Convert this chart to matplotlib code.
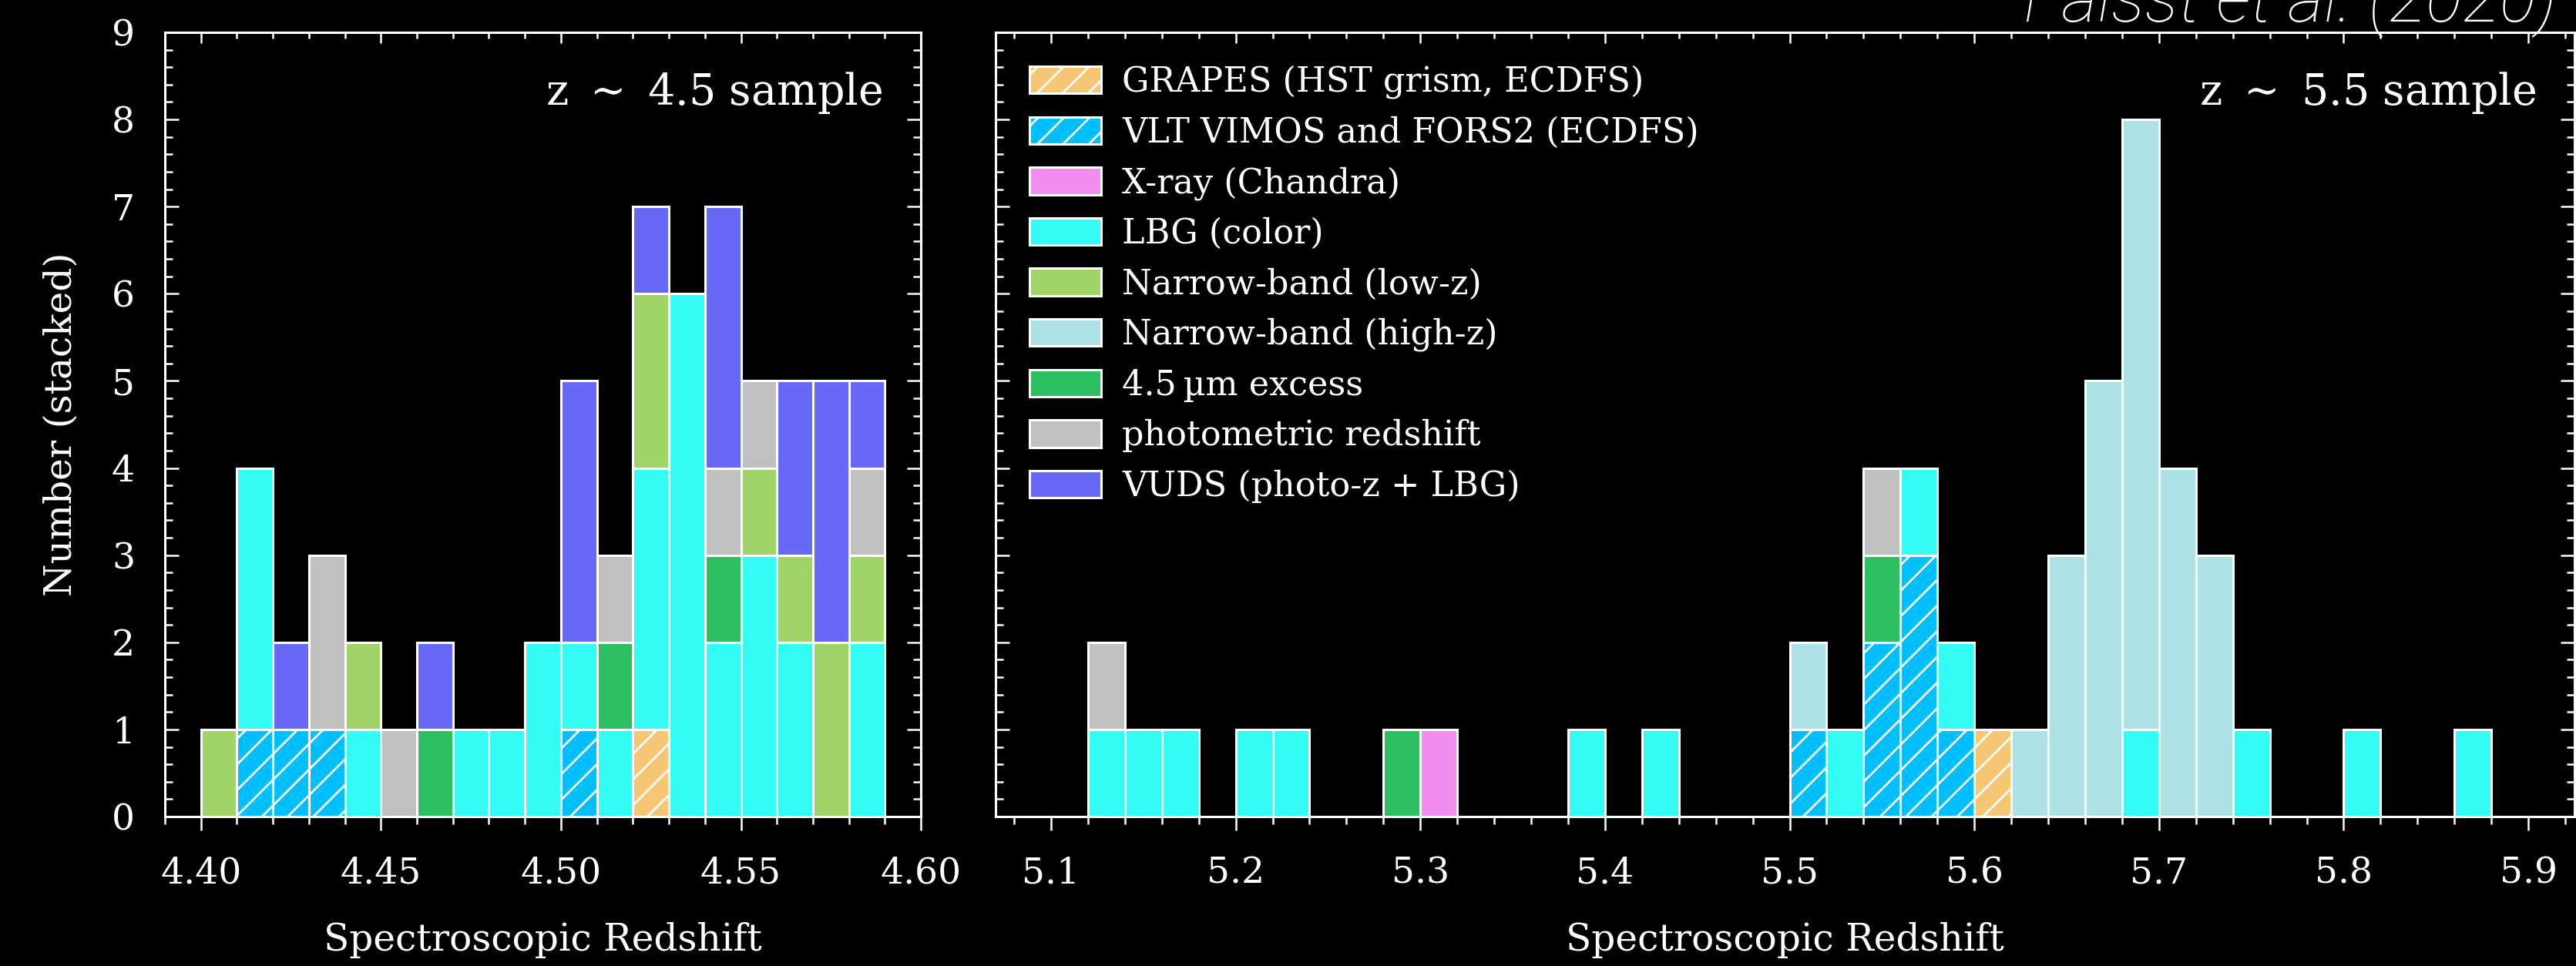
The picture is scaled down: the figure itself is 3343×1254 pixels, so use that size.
import numpy as np
import matplotlib
matplotlib.use("Agg")
import matplotlib.pyplot as plt
import matplotlib.patches as mpatches
from matplotlib.ticker import MultipleLocator

plt.rcParams["font.family"] = "DejaVu Serif"
plt.rcParams["mathtext.fontset"] = "dejavuserif"
plt.rcParams["hatch.linewidth"] = 2.0
plt.rcParams["hatch.color"] = "white"

# selection methods, stacked bottom to top
categories = ["GRAPES (HST grism, ECDFS)", "VLT VIMOS and FORS2 (ECDFS)", "X-ray (Chandra)", "LBG (color)",
              "Narrow-band (low-z)", "Narrow-band (high-z)", "4.5\u2009\u00b5m excess", "photometric redshift",
              "VUDS (photo-z + LBG)"]
colors = ["#f7c674", "#00bfff", "#f28ef0", "#33fcf5", "#a0d468", "#ace2e6", "#2bbf5f", "#c0c0c0", "#6767f8"]
hatches = ["/", "/", None, None, None, None, None, None, None]

# z ~ 4.5 sample: spectroscopic redshifts per selection method
grapes_45 = [4.525]
vlt_45 = [4.415, 4.425, 4.435, 4.505]
xray_45 = []
lbg_45 = [4.415, 4.415, 4.415, 4.445, 4.475, 4.485, 4.495, 4.495, 4.505, 4.515,
          4.525, 4.525, 4.525, 4.535, 4.535, 4.535, 4.535, 4.535, 4.535,
          4.545, 4.545, 4.555, 4.555, 4.555, 4.565, 4.565, 4.585, 4.585]
nblow_45 = [4.405, 4.445, 4.525, 4.525, 4.555, 4.565, 4.575, 4.575, 4.585]
nbhigh_45 = []
irac_45 = [4.465, 4.515, 4.545]
photz_45 = [4.435, 4.435, 4.455, 4.515, 4.545, 4.555, 4.585]
vuds_45 = [4.425, 4.465, 4.505, 4.505, 4.505, 4.525, 4.545, 4.545, 4.545,
           4.565, 4.565, 4.575, 4.575, 4.575, 4.585]

# z ~ 5.5 sample
grapes_55 = [5.61]
vlt_55 = [5.51, 5.55, 5.55, 5.57, 5.57, 5.57, 5.59]
xray_55 = [5.31]
lbg_55 = [5.13, 5.15, 5.17, 5.21, 5.23, 5.39, 5.43, 5.53, 5.57, 5.59, 5.69, 5.75, 5.81, 5.87]
nblow_55 = []
nbhigh_55 = [5.51, 5.63, 5.65, 5.65, 5.65, 5.67, 5.67, 5.67, 5.67, 5.67,
             5.69, 5.69, 5.69, 5.69, 5.69, 5.69, 5.69, 5.71, 5.71, 5.71, 5.71,
             5.73, 5.73, 5.73]
irac_55 = [5.29, 5.55]
photz_55 = [5.13, 5.55]
vuds_55 = []

sample_45 = [grapes_45, vlt_45, xray_45, lbg_45, nblow_45, nbhigh_45, irac_45, photz_45, vuds_45]
sample_55 = [grapes_55, vlt_55, xray_55, lbg_55, nblow_55, nbhigh_55, irac_55, photz_55, vuds_55]

bins_45 = np.round(np.arange(4.40, 4.595, 0.01), 2)
bins_55 = np.round(np.arange(5.10, 5.905, 0.02), 2)

FS = 34
LW = 2.2


def _stacked_hist(ax, sample, bins):
    width = bins[1] - bins[0]
    bottom = np.zeros(len(bins) - 1)
    for values, color, hatch in zip(sample, colors, hatches):
        counts = np.histogram(values, bins=bins)[0]
        m = counts > 0
        if m.any():
            ax.bar(bins[:-1][m], counts[m], width=width, bottom=bottom[m], align="edge",
                   color=color, edgecolor="white", linewidth=LW, hatch=hatch, zorder=2)
        bottom += counts


def _style_axes(ax, major_x, minor_x):
    ax.set_facecolor("black")
    for spine in ax.spines.values():
        spine.set_color("white")
        spine.set_linewidth(LW)
    ax.set_ylim(0, 9)
    ax.xaxis.set_major_locator(MultipleLocator(major_x))
    ax.xaxis.set_minor_locator(MultipleLocator(minor_x))
    ax.yaxis.set_major_locator(MultipleLocator(1))
    ax.yaxis.set_minor_locator(MultipleLocator(0.2))
    ax.tick_params(axis="x", which="both", direction="out", top=False, colors="white",
                   labelsize=FS, pad=24, width=1.8)
    ax.tick_params(axis="y", which="both", direction="in", left=True, right=True, colors="white",
                   labelsize=FS, pad=28, width=1.8)
    ax.tick_params(which="major", length=13)
    ax.tick_params(which="minor", length=7)
    # inward ticks along the top edge
    top = ax.secondary_xaxis("top")
    top.xaxis.set_major_locator(MultipleLocator(major_x))
    top.xaxis.set_minor_locator(MultipleLocator(minor_x))
    top.tick_params(which="both", direction="in", labeltop=False, colors="white", width=1.8)
    top.tick_params(which="major", length=10)
    top.tick_params(which="minor", length=6)
    top.spines["top"].set_color("white")
    top.spines["top"].set_linewidth(LW)
    ax.set_xlabel("Spectroscopic Redshift", color="white", fontsize=FS + 1)
    ax.xaxis.set_label_coords(0.5, -0.135)


fig = plt.figure(figsize=(33.43, 12.54), dpi=100, facecolor="black")
ax1 = fig.add_axes([0.0640, 0.1547, 0.2935, 0.8118])
ax2 = fig.add_axes([0.3865, 0.1547, 0.6129, 0.8118])

_stacked_hist(ax1, sample_45, bins_45)
_style_axes(ax1, 0.05, 0.01)
ax1.set_xlim(4.39, 4.60)
ax1.xaxis.set_major_formatter(matplotlib.ticker.FormatStrFormatter("%.2f"))
ax1.set_ylabel("Number (stacked)", color="white", fontsize=FS + 1)
ax1.yaxis.set_label_coords(-0.114, 0.5)
ax1.text(1 - 50 / 981, 0.923, r"z $\sim$ 4.5 sample", transform=ax1.transAxes, ha="right", va="center",
         color="white", fontsize=40)

_stacked_hist(ax2, sample_55, bins_55)
_style_axes(ax2, 0.1, 0.02)
ax2.set_xlim(5.07, 5.925)
ax2.tick_params(axis="y", labelleft=False)
ax2.text(1 - 50 / 2049, 0.923, r"z $\sim$ 5.5 sample", transform=ax2.transAxes, ha="right", va="center",
         color="white", fontsize=40)

handles = [mpatches.Patch(facecolor=c, edgecolor="white", linewidth=LW, hatch=h, label=l)
           for l, c, h in zip(categories, colors, hatches)]
ax2.legend(handles=handles, loc="upper left", bbox_to_anchor=(0.0215, 0.958), frameon=False,
           borderpad=0, borderaxespad=0, handlelength=2.1, handleheight=0.85, handletextpad=0.6,
           labelspacing=0.5, fontsize=32, labelcolor="white")

fig.text(3318 / 3343, 1 - 28 / 1254, "Faisst et al. (2020)", ha="right", va="baseline",
         fontsize=65, family="Roboto", style="italic", weight="light", color="white")

fig.savefig("out.png", dpi=100, facecolor="black")
